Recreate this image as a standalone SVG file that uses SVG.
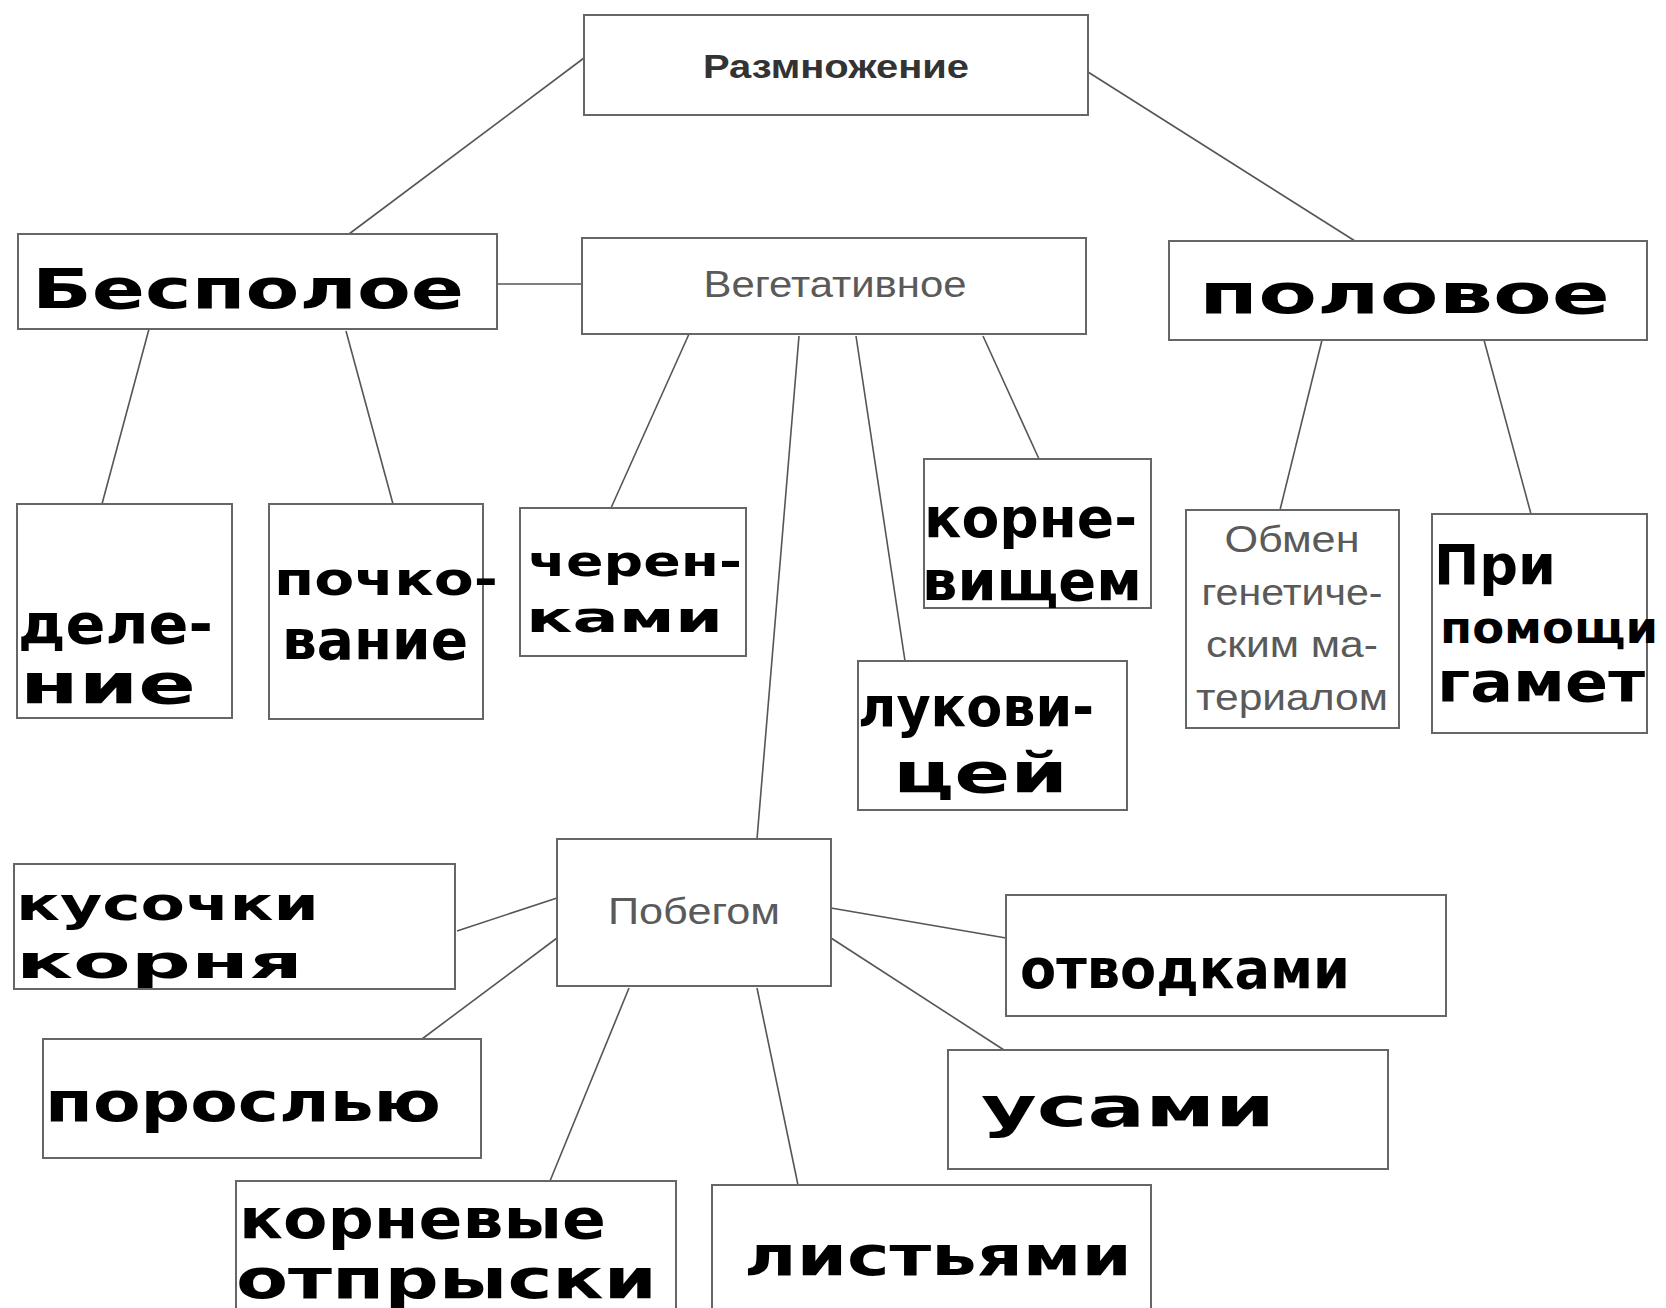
<svg xmlns="http://www.w3.org/2000/svg" width="1666" height="1308" viewBox="0 0 1666 1308">
<style>
.box{fill:#fff;stroke:#666;stroke-width:2}
.ln{stroke:#555;stroke-width:1.6;fill:none}
.pr{font-family:"Liberation Sans",Arial,sans-serif;fill:#5a5a5a;font-size:36px;text-anchor:middle}
.prb{font-family:"Liberation Sans",Arial,sans-serif;fill:#333;font-size:33px;font-weight:bold;text-anchor:middle}
.hw{font-family:"DejaVu Sans",sans-serif;font-weight:bold;fill:#000;font-size:56px}
.sm{font-size:46px}
.xs{font-size:42px}
</style>
<rect width="1666" height="1308" fill="#fff"/>
<g id="connectors">
<line class="ln" x1="584" y1="58" x2="349" y2="234"/>
<line class="ln" x1="1088" y1="72" x2="1355" y2="241"/>
<line class="ln" x1="497" y1="284" x2="582" y2="284"/>
<line class="ln" x1="149" y1="329" x2="102" y2="504"/>
<line class="ln" x1="346" y1="331" x2="393" y2="504"/>
<line class="ln" x1="689" y1="334" x2="611" y2="508"/>
<line class="ln" x1="799" y1="336" x2="757" y2="839"/>
<line class="ln" x1="856" y1="336" x2="905" y2="661"/>
<line class="ln" x1="983" y1="336" x2="1039" y2="459"/>
<line class="ln" x1="1322" y1="340" x2="1280" y2="510"/>
<line class="ln" x1="1484" y1="340" x2="1531" y2="514"/>
<line class="ln" x1="557" y1="898" x2="457" y2="931"/>
<line class="ln" x1="557" y1="938" x2="422" y2="1039"/>
<line class="ln" x1="629" y1="988" x2="550" y2="1181"/>
<line class="ln" x1="757" y1="988" x2="798" y2="1185"/>
<line class="ln" x1="831" y1="908" x2="1006" y2="938"/>
<line class="ln" x1="831" y1="938" x2="1004" y2="1050"/>
</g>
<g id="razmnozhenie"><rect class="box" x="584" y="15" width="504" height="100"/><text class="prb" x="836" y="78" textLength="266" lengthAdjust="spacingAndGlyphs">Размножение</text></g>
<g id="bespoloe"><rect class="box" x="18" y="234" width="479" height="95"/><text class="hw" x="32" y="308" textLength="432" lengthAdjust="spacingAndGlyphs">Бесполое</text></g>
<g id="vegetativnoe"><rect class="box" x="582" y="238" width="504" height="96"/><text class="pr" x="835" y="297" textLength="263" lengthAdjust="spacingAndGlyphs">Вегетативное</text></g>
<g id="polovoe"><rect class="box" x="1169" y="241" width="478" height="99"/><text class="hw" x="1199" y="313" textLength="411" lengthAdjust="spacingAndGlyphs">половое</text></g>
<g id="delenie"><rect class="box" x="17" y="504" width="215" height="214"/><text class="hw" x="18" y="643" textLength="195" lengthAdjust="spacingAndGlyphs">деле-</text><text class="hw" x="20" y="703" textLength="176" lengthAdjust="spacingAndGlyphs">ние</text></g>
<g id="pochkovanie"><rect class="box" x="269" y="504" width="214" height="215"/><text class="hw" x="274" y="595" textLength="224" lengthAdjust="spacingAndGlyphs" style="font-size:46px">почко-</text><text class="hw" x="282" y="659" textLength="186" lengthAdjust="spacingAndGlyphs">вание</text></g>
<g id="cherenkami"><rect class="box" x="520" y="508" width="226" height="148"/><text class="hw xs" x="528" y="576" textLength="214" lengthAdjust="spacingAndGlyphs">черен-</text><text class="hw xs" x="526" y="632" textLength="197" lengthAdjust="spacingAndGlyphs">ками</text></g>
<g id="kornevishchem"><rect class="box" x="924" y="459" width="227" height="149"/><text class="hw" x="924" y="537" textLength="213" lengthAdjust="spacingAndGlyphs">корне-</text><text class="hw" x="922" y="600" textLength="220" lengthAdjust="spacingAndGlyphs">вищем</text></g>
<g id="lukovitsei"><rect class="box" x="858" y="661" width="269" height="149"/><text class="hw" x="858" y="726" textLength="236" lengthAdjust="spacingAndGlyphs">лукови-</text><text class="hw" x="893" y="792" textLength="175" lengthAdjust="spacingAndGlyphs">цей</text></g>
<g id="obmen"><rect class="box" x="1186" y="510" width="213" height="218"/>
<text class="pr" x="1292" y="552" textLength="135" lengthAdjust="spacingAndGlyphs">Обмен</text><text class="pr" x="1292" y="605" textLength="181" lengthAdjust="spacingAndGlyphs">генетиче-</text><text class="pr" x="1292" y="657" textLength="172" lengthAdjust="spacingAndGlyphs">ским ма-</text><text class="pr" x="1292" y="710" textLength="192" lengthAdjust="spacingAndGlyphs">териалом</text></g>
<g id="gamety"><rect class="box" x="1432" y="514" width="215" height="219"/><text class="hw" x="1434" y="584" textLength="122" lengthAdjust="spacingAndGlyphs">При</text><text class="hw" x="1440" y="643" textLength="218" lengthAdjust="spacingAndGlyphs" style="font-size:44px">помощи</text><text class="hw" x="1437" y="701" textLength="208" lengthAdjust="spacingAndGlyphs">гамет</text></g>
<g id="pobegom"><rect class="box" x="557" y="839" width="274" height="147"/><text class="pr" x="694" y="924" textLength="172" lengthAdjust="spacingAndGlyphs">Побегом</text></g>
<g id="kusochki"><rect class="box" x="14" y="864" width="441" height="125"/><text class="hw sm" x="16" y="920" textLength="303" lengthAdjust="spacingAndGlyphs">кусочки</text><text class="hw sm" x="16" y="978" textLength="287" lengthAdjust="spacingAndGlyphs">корня</text></g>
<g id="otvodkami"><rect class="box" x="1006" y="895" width="440" height="121"/><text class="hw" x="1020" y="988" textLength="330" lengthAdjust="spacingAndGlyphs">отводками</text></g>
<g id="porosliu"><rect class="box" x="43" y="1039" width="438" height="119"/><text class="hw" x="45" y="1121" textLength="396" lengthAdjust="spacingAndGlyphs">порослью</text></g>
<g id="usami"><rect class="box" x="948" y="1050" width="440" height="119"/><text class="hw" x="981" y="1126" textLength="294" lengthAdjust="spacingAndGlyphs">усами</text></g>
<g id="kornevye"><rect class="box" x="236" y="1181" width="440" height="140"/><text class="hw" x="239" y="1238" textLength="367" lengthAdjust="spacingAndGlyphs">корневые</text><text class="hw" x="236" y="1298" textLength="421" lengthAdjust="spacingAndGlyphs">отпрыски</text></g>
<g id="listiami"><rect class="box" x="712" y="1185" width="439" height="135"/><text class="hw" x="744" y="1275" textLength="388" lengthAdjust="spacingAndGlyphs">листьями</text></g>
</svg>
